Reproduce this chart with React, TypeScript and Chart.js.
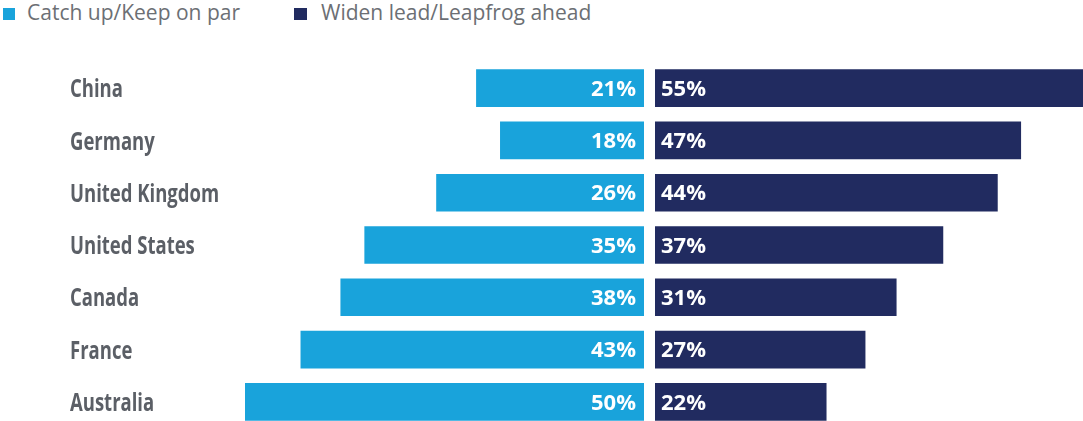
import React, { useEffect, useRef } from "react";
import { Chart, registerables } from "chart.js";

Chart.register(...registerables);

const categories = ["China", "Germany", "United Kingdom", "United States", "Canada", "France", "Australia"];
const catchUpValues = [21, 18, 26, 35, 38, 43, 50];
const widenLeadValues = [55, 47, 44, 37, 31, 27, 22];
const seriesNames = ["Catch up/Keep on par", "Widen lead/Leapfrog ahead"];
const seriesColors = ["#19A3DB", "#212B60"];

const VALUE_FONT = '"Open Sans", sans-serif';

const valueLabelPlugin = (side: "left" | "right") => ({
  id: "valueLabels" + side,
  afterDatasetsDraw(chart: any) {
    const ctx = chart.ctx;
    const meta = chart.getDatasetMeta(0);
    const data = chart.data.datasets[0].data;
    ctx.save();
    ctx.fillStyle = "#ffffff";
    ctx.font = "bold 22px " + VALUE_FONT;
    ctx.textBaseline = "middle";
    meta.data.forEach((el: any, i: number) => {
      const txt = data[i] + "%";
      if (side === "left") {
        ctx.textAlign = "right";
        ctx.fillText(txt, el.base - 8, el.y + 1.5);
      } else {
        ctx.textAlign = "left";
        ctx.fillText(txt, el.base + 6, el.y + 1.5);
      }
    });
    ctx.restore();
  },
});

// Category labels drawn as condensed text at the left edge of the canvas
const categoryLabelPlugin = {
  id: "categoryLabels",
  afterDraw(chart: any) {
    const ctx = chart.ctx;
    const yScale = chart.scales.y;
    ctx.save();
    ctx.fillStyle = "#5B5F66";
    ctx.font = "bold 25px " + VALUE_FONT;
    ctx.textBaseline = "middle";
    ctx.textAlign = "left";
    chart.data.labels.forEach((lab: string, i: number) => {
      const y = yScale.getPixelForValue(i);
      ctx.save();
      ctx.translate(70, y + 2);
      ctx.scale(0.74, 1);
      ctx.fillText(lab, 0, 0);
      ctx.restore();
    });
    ctx.restore();
  },
};

function BarSide({ side }: { side: "left" | "right" }) {
  const ref = useRef<HTMLCanvasElement | null>(null);
  useEffect(() => {
    if (!ref.current) return;
    const isLeft = side === "left";
    const chart = new Chart(ref.current, {
      type: "bar",
      data: {
        labels: categories,
        datasets: [
          {
            label: isLeft ? seriesNames[0] : seriesNames[1],
            data: isLeft ? catchUpValues : widenLeadValues,
            backgroundColor: isLeft ? seriesColors[0] : seriesColors[1],
            barThickness: 37,
            borderWidth: 0,
          },
        ],
      },
      options: {
        indexAxis: "y",
        animation: false,
        responsive: false,
        maintainAspectRatio: false,
        layout: { padding: { top: 62, bottom: 12, left: isLeft ? 245 : 0, right: 0 } },
        plugins: { legend: { display: false }, tooltip: { enabled: false } },
        scales: {
          x: {
            display: false,
            min: 0,
            max: isLeft ? 50 : 55,
            reverse: isLeft,
          },
          y: {
            display: false,
          },
        },
      },
      plugins: isLeft ? [valueLabelPlugin(side), categoryLabelPlugin] : [valueLabelPlugin(side)],
    } as any);
    return () => chart.destroy();
  }, [side]);
  return (
    <canvas
      ref={ref}
      width={side === "left" ? 644 : 428}
      height={440}
      style={{ position: "absolute", top: 0, left: side === "left" ? 0 : 655, width: side === "left" ? 644 : 428, height: 440 }}
    />
  );
}

export default function App() {
  const legendText = { fontFamily: VALUE_FONT, fontSize: 21, color: "#6C6F74", position: "absolute" as const, top: -1, lineHeight: "27px", whiteSpace: "nowrap" as const };
  return (
    <div style={{ position: "fixed", left: 0, top: 0, width: 1083, height: 421, overflow: "hidden", background: "#fff" }}>
      <div style={{ position: "absolute", left: 3, top: 8, width: 12, height: 12, background: seriesColors[0] }} />
      <div style={{ ...legendText, left: 27 }}>{seriesNames[0]}</div>
      <div style={{ position: "absolute", left: 294, top: 8, width: 13, height: 12, background: seriesColors[1] }} />
      <div style={{ ...legendText, left: 321 }}>{seriesNames[1]}</div>
      <BarSide side="left" />
      <BarSide side="right" />
    </div>
  );
}
